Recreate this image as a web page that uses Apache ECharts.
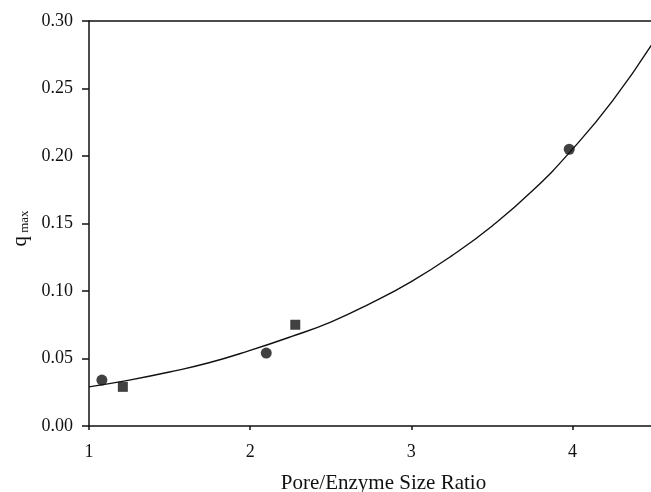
<!DOCTYPE html>
<html>
<head>
<meta charset="utf-8">
<script src="https://cdn.jsdelivr.net/npm/echarts@6/dist/echarts.min.js"></script>
<style>
  html, body { margin: 0; padding: 0; background: #fff; }
  #chart { width: 651px; height: 492px; }
</style>
</head>
<body>
<div id="chart"></div>
<script>
// measured points (circles and squares)
const circleX = [1.08, 2.10, 3.98];
const circleY = [0.034, 0.054, 0.205];
const squareX = [1.21, 2.28];
const squareY = [0.029, 0.075];

// fitted curve
const curveX = [1.0, 1.25, 1.5, 1.75, 2.0, 2.25, 2.5, 2.75, 3.0, 3.25, 3.5, 3.75, 4.0, 4.25, 4.5];
const curveY = [0.029, 0.034, 0.040, 0.047, 0.056, 0.066, 0.077, 0.091, 0.107, 0.126, 0.148, 0.174, 0.205, 0.241, 0.284];

const ink = '#111';
const font = 'Liberation Serif';

function pairs(xs, ys) {
    return xs.map((x, i) => [x, ys[i]]);
}

const chartDom = document.getElementById('chart');
const chart = echarts.init(chartDom);

const option = {
    animation: false,
    backgroundColor: '#fff',
    grid: { left: 89, right: -2, top: 21, bottom: 66, outerBoundsMode: 'none' },
    xAxis: [
        {
            type: 'value',
            min: 1,
            max: 4.5,
            interval: 1,
            name: 'Pore/Enzyme Size Ratio',
            nameLocation: 'middle',
            nameGap: 47,
            nameTextStyle: { fontFamily: font, fontSize: 21, color: ink, padding: [0, 0, 0, 25] },
            splitLine: { show: false },
            axisLine: { lineStyle: { color: ink, width: 1.5 } },
            axisTick: { inside: false, length: 4, lineStyle: { color: ink, width: 1.5 } },
            axisLabel: {
                fontFamily: font, fontSize: 18, color: ink, margin: 17,
                formatter: v => (Number.isInteger(v) ? String(v) : '')
            }
        },
        {
            type: 'value',
            position: 'top',
            min: 1,
            max: 4.5,
            splitLine: { show: false },
            axisLine: { show: true, lineStyle: { color: ink, width: 1.5 } },
            axisTick: { show: false },
            axisLabel: { show: false }
        }
    ],
    yAxis: {
        type: 'value',
        min: 0,
        max: 0.3,
        interval: 0.05,
        name: '{q|q}{m| max}',
        nameLocation: 'middle',
        nameGap: 58,
        nameRotate: 90,
        nameTextStyle: {
            padding: [0, 10, 0, 0],
            rich: {
                q: { fontFamily: font, fontSize: 21, color: ink },
                m: { fontFamily: font, fontSize: 13, color: ink, padding: [8, 0, 0, 0] }
            }
        },
        splitLine: { show: false },
        axisLine: { show: true, lineStyle: { color: ink, width: 1.5 } },
        axisTick: { show: true, inside: false, length: 7, lineStyle: { color: ink, width: 1.5 } },
        axisLabel: {
            fontFamily: font, fontSize: 18, color: ink, margin: 16,
            formatter: v => v.toFixed(2)
        }
    },
    series: [
        {
            name: 'fit',
            type: 'line',
            data: pairs(curveX, curveY),
            smooth: true,
            showSymbol: false,
            lineStyle: { color: ink, width: 1.4 },
            z: 2
        },
        {
            name: 'circles',
            type: 'scatter',
            data: pairs(circleX, circleY),
            symbol: 'circle',
            symbolSize: 11,
            itemStyle: { color: ink },
            z: 3
        },
        {
            name: 'squares',
            type: 'scatter',
            data: pairs(squareX, squareY),
            symbol: 'rect',
            symbolSize: 10,
            itemStyle: { color: ink },
            z: 3
        }
    ]
};

chart.setOption(option);
</script>
</body>
</html>
